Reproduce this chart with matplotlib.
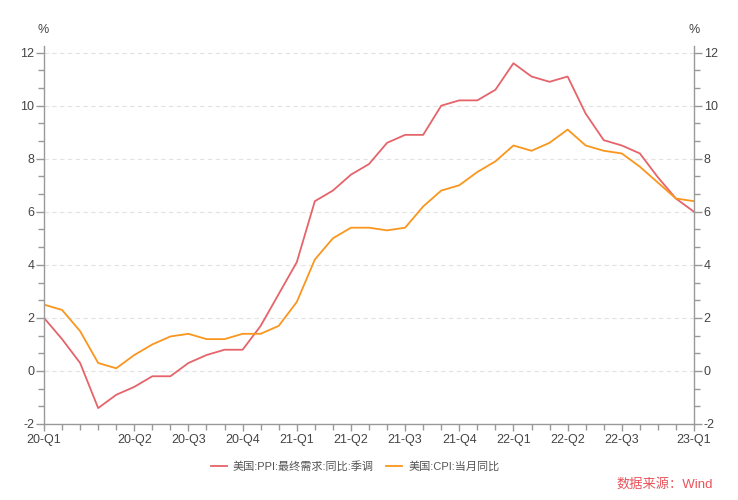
import matplotlib
matplotlib.use("Agg")
import matplotlib.pyplot as plt
from matplotlib.ticker import MultipleLocator, FixedLocator
import numpy as np

plt.rcParams['font.family'] = ['Liberation Sans', 'Noto Sans CJK SC', 'DejaVu Sans']
plt.rcParams['axes.unicode_minus'] = False

months = [f"{y}-{m:02d}" for y in (2020, 2021, 2022) for m in range(1, 13)] + ["2023-01"]
ppi = [2.0, 1.2, 0.3, -1.4, -0.9, -0.6, -0.2, -0.2, 0.3, 0.6, 0.8, 0.8,
       1.7, 2.9, 4.1, 6.4, 6.8, 7.4, 7.8, 8.6, 8.9, 8.9, 10.0, 10.2,
       10.2, 10.6, 11.6, 11.1, 10.9, 11.1, 9.7, 8.7, 8.5, 8.2, 7.3, 6.5,
       6.0]
cpi = [2.5, 2.3, 1.5, 0.3, 0.1, 0.6, 1.0, 1.3, 1.4, 1.2, 1.2, 1.4,
       1.4, 1.7, 2.6, 4.2, 5.0, 5.4, 5.4, 5.3, 5.4, 6.2, 6.8, 7.0,
       7.5, 7.9, 8.5, 8.3, 8.6, 9.1, 8.5, 8.3, 8.2, 7.7, 7.1, 6.5,
       6.4]
tick_pos = [0, 5, 8, 11, 14, 17, 20, 23, 26, 29, 32, 36]
tick_labels = ["20-Q1", "20-Q2", "20-Q3", "20-Q4", "21-Q1", "21-Q2", "21-Q3",
               "21-Q4", "22-Q1", "22-Q2", "22-Q3", "23-Q1"]
series_names = ["美国:PPI:最终需求:同比:季调", "美国:CPI:当月同比"]

RED = "#E5646A"
ORANGE = "#FA961E"
SPINE = "#999999"
TXT = "#444444"

fig = plt.figure(figsize=(7.38, 5.0), dpi=100)
ax = fig.add_axes([44/738, 1-424/500, 650/738, 378/500])
x = np.arange(len(months))
l1, = ax.plot(x, ppi, color=RED, lw=1.3, label=series_names[0])
l2, = ax.plot(x, cpi, color=ORANGE, lw=1.3, label=series_names[1])

ax.set_xlim(0, len(months) - 1)
ax.set_ylim(-2, 12.25)
ax.yaxis.set_major_locator(MultipleLocator(2))
ax.yaxis.set_minor_locator(MultipleLocator(2/3))
ax.xaxis.set_major_locator(FixedLocator(tick_pos))
ax.xaxis.set_minor_locator(FixedLocator(list(x)))
ax.set_xticklabels(tick_labels)
ax.grid(axis='y', which='major', color='#e2e2e2', ls=(0, (4, 3)), lw=0.8)
for s in ('left', 'right', 'bottom'):
    ax.spines[s].set_color(SPINE)
    ax.spines[s].set_linewidth(1.0)
ax.spines['top'].set_visible(False)
ax.tick_params(axis='both', which='both', colors=SPINE, labelcolor=TXT, labelsize=9, width=1.0)
ax.tick_params(axis='y', which='major', length=6, pad=1)
ax.tick_params(axis='y', which='minor', length=4)
ax.tick_params(axis='x', which='major', length=5, pad=2)
ax.tick_params(axis='x', which='minor', length=4)
ax.tick_params(axis='y', which='both', right=True, labelright=True)
ax.set_axisbelow(True)

fig.text(43/738, 1-30/500, "%", ha='center', va='center', fontsize=9, color=TXT)
fig.text(694/738, 1-30/500, "%", ha='center', va='center', fontsize=9, color=TXT)

fig.legend(handles=[l1, l2], loc='center', bbox_to_anchor=(355/738, 1-466/500), ncol=2,
           frameon=False, fontsize=8, labelcolor='#555555', handlelength=1.45,
           handletextpad=0.55, columnspacing=1.1)
fig.text(713/738, 1-484/500, "数据来源：Wind", ha='right', va='center', fontsize=9.5, color="#E8545A")

fig.savefig("out.png", dpi=100)
